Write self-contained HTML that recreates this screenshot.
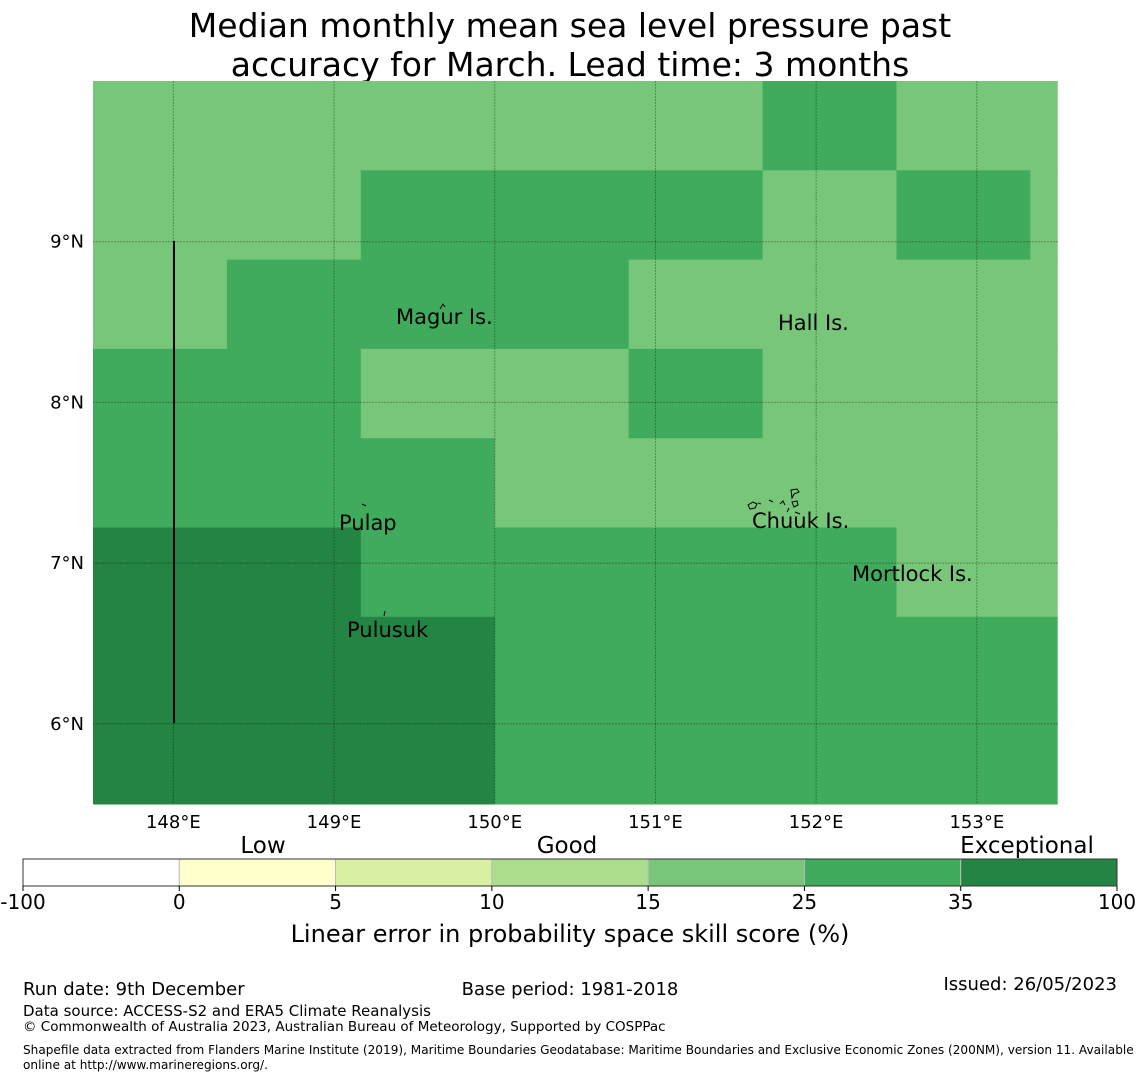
<!DOCTYPE html>
<html><head><meta charset="utf-8"><style>
body{margin:0;background:#fff;width:1140px;height:1080px;overflow:hidden;font-family:"DejaVu Sans","Liberation Sans",sans-serif;}
svg text{font-family:"DejaVu Sans","Liberation Sans",sans-serif;}
</style></head><body>
<svg id="chart" width="1140" height="1080">
<text x="570" y="37" font-size="33" text-anchor="middle">Median monthly mean sea level pressure past</text>
<text x="570" y="76" font-size="33" text-anchor="middle">accuracy for March. Lead time: 3 months</text>
<g id="cells"></g>
<g id="grid"></g>
<g id="islands" fill="none" stroke="#000" stroke-width="1">
<path d="M748 505 l5 -3 l4 2 l-2 4 l-5 1 z M758 503 l3 1 M769 500 l4 2 M780 504 l3 -3 l2 4 M791 490 l6 -1 l2 3 l-5 2 l-2 4 z M792 502 l5 -1 l1 4 l-4 2 z M787 512 l2 -4 M795 512 l5 2"/>
<path d="M440 309 l3 -5 l2 3"/>
<path d="M362 504 l4 2"/>
<path d="M384 616 l1 -5"/>
</g>
<line x1="174" y1="241" x2="174" y2="723" stroke="#000" stroke-width="2"/>
<g font-size="21" fill="#000">
<text x="396" y="324">Magur Is.</text>
<text x="778" y="330">Hall Is.</text>
<text x="339" y="530">Pulap</text>
<text x="752" y="528">Chuuk Is.</text>
<text x="852" y="581">Mortlock Is.</text>
<text x="347" y="637">Pulusuk</text>
</g>
<g id="axes" font-size="18"></g>
<g id="cbar"></g>
<g font-size="23">
<text x="263" y="853" text-anchor="middle">Low</text>
<text x="567" y="853" text-anchor="middle">Good</text>
<text x="1027" y="853" text-anchor="middle">Exceptional</text>
</g>
<text x="570" y="942" font-size="24" text-anchor="middle">Linear error in probability space skill score (%)</text>
<text x="23" y="995" font-size="18">Run date: 9th December</text>
<text x="570" y="995" font-size="18" text-anchor="middle">Base period: 1981-2018</text>
<text x="1117" y="990" font-size="18" text-anchor="end">Issued: 26/05/2023</text>
<text x="23" y="1016" font-size="15">Data source: ACCESS-S2 and ERA5 Climate Reanalysis</text>
<text x="23" y="1031" font-size="13.5">© Commonwealth of Australia 2023, Australian Bureau of Meteorology, Supported by COSPPac</text>
<text x="23" y="1054" font-size="12.1">Shapefile data extracted from Flanders Marine Institute (2019), Maritime Boundaries Geodatabase: Maritime Boundaries and Exclusive Economic Zones (200NM), version 11. Available</text>
<text x="23" y="1069" font-size="12.1">online at http://www.marineregions.org/.</text>
</svg>
<script>
// data
const lonTicks=[148,149,150,151,152,153];
const latTicks=[9,8,7,6];
const colEdgesDeg=[0,0.8333,1.6667,2.5,3.3333,4.1667,5,5.8333,6];
const rowCount=8;
const levelColors=["#ffffff","#ffffcc","#d9f0a3","#addd8e","#78c679","#41ab5d","#238443"];
const cbarTicks=["-100","0","5","10","15","25","35","100"];
const cellLevels=[
[4,4,4,4,4,5,4,4],
[4,4,5,5,5,4,5,4],
[4,5,5,5,4,4,4,4],
[5,5,4,4,5,4,4,4],
[5,5,5,4,4,4,4,4],
[6,6,5,5,5,5,4,4],
[6,6,6,5,5,5,5,5],
[6,6,6,5,5,5,5,5]
];
const NS="http://www.w3.org/2000/svg";
function mk(t,a,p){const e=document.createElementNS(NS,t);for(const k in a)e.setAttribute(k,a[k]);p.appendChild(e);return e;}
const X0=93,X1=1058,Y0=81,Y1=804;
const lonMin=147.5,ppd=160.7,latTop=10.0;
const xS=lon=>X0+(lon-lonMin)*ppd;
const yS=lat=>Y0+(latTop-lat)*ppd;
const rowH=89.3;
const cells=document.getElementById('cells');
cellLevels.forEach((row,r)=>row.forEach((lv,c)=>{
  const x=X0+colEdgesDeg[c]*ppd,x2=X0+colEdgesDeg[c+1]*ppd;
  const y=Y0+r*rowH,y2=r===rowCount-1?Y1:Y0+(r+1)*rowH;
  const e=mk('rect',{x:x,y:y,width:x2-x+0.5,height:y2-y+0.5,fill:levelColors[lv]},cells);
  
  
}));
const grid=document.getElementById('grid'),axes=document.getElementById('axes');
lonTicks.forEach(l=>{
  const x=xS(l);
  const g=mk('line',{x1:x,y1:Y0,x2:x,y2:Y1,stroke:'#000','stroke-opacity':0.3,'stroke-width':1,'stroke-dasharray':'2,1'},grid);
  
  
  const t=mk('text',{x:x,y:828,'text-anchor':'middle'},axes);t.textContent=l+'°E';
  
  
});
latTicks.forEach(l=>{
  const y=yS(l);
  const g=mk('line',{x1:X0,y1:y,x2:X1,y2:y,stroke:'#000','stroke-opacity':0.3,'stroke-width':1,'stroke-dasharray':'2,1'},grid);
  
  
  const t=mk('text',{x:84,y:y+6,'text-anchor':'end'},axes);t.textContent=l+'°N';
  
  
});
const cb=document.getElementById('cbar');
const CX0=23,CX1=1117,CY=859,CH=27,seg=(CX1-CX0)/levelColors.length;
levelColors.forEach((c,i)=>{
  const e=mk('rect',{x:CX0+i*seg,y:CY,width:seg,height:CH,fill:c,stroke:'#bbb','stroke-width':1},cb);
  
  
});
const fr=mk('rect',{x:CX0,y:CY,width:CX1-CX0,height:CH,fill:'none',stroke:'#333','stroke-width':1},cb);


cbarTicks.forEach((t,i)=>{
  const x=CX0+i*seg;
  mk('line',{x1:x,y1:CY+CH,x2:x,y2:CY+CH+5,stroke:'#000'},cb);
  const e=mk('text',{x:x,y:909,'font-size':20,'text-anchor':'middle'},cb);e.textContent=t;
  
  
});
</script>
</body></html>
